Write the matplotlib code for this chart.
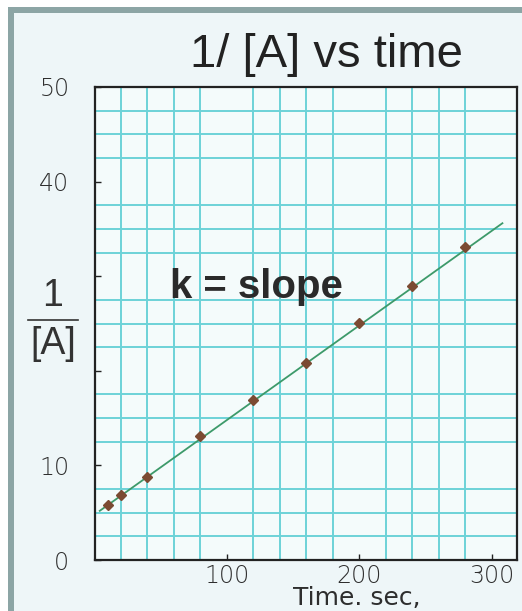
import matplotlib
matplotlib.use("Agg")
import matplotlib.pyplot as plt
from matplotlib.ticker import MultipleLocator, FixedLocator, FixedFormatter
from matplotlib.lines import Line2D
from matplotlib.patches import Rectangle

# data
time_s = [10, 20, 40, 80, 120, 160, 200, 240, 280]
inv_A = [5.8, 6.9, 8.8, 13.1, 16.9, 20.8, 25.1, 29.0, 33.1]
fit_t = [4, 308]
fit_y = [5.2, 35.6]
x_ticks = [100, 200, 300]
x_ticklabels = ["100", "200", "300"]
y_ticks = [0, 10, 20, 30, 40, 50]
y_ticklabels = ["0", "10", "", "", "40", "50"]

W, H = 522, 611
fig = plt.figure(figsize=(W / 100, H / 100), dpi=100)
fig.patch.set_facecolor("white")

# inner panel background and grey frame
fig.add_artist(Rectangle((8 / W, 0), 1, 1 - 7 / H, transform=fig.transFigure,
                         facecolor="#8ca5a5", edgecolor="none", zorder=-3))
fig.add_artist(Rectangle((14 / W, 0), 1, 1 - 13 / H, transform=fig.transFigure,
                         facecolor="#eef6f8", edgecolor="none", zorder=-2))

ax = fig.add_axes([94.5 / W, 1 - 560 / H, (517 - 94.5) / W, (560 - 87) / H])
ax.set_facecolor("#f4fbfb")
ax.set_xlim(0, 319)
ax.set_ylim(0, 50)

ax.xaxis.set_minor_locator(MultipleLocator(20))
ax.yaxis.set_minor_locator(MultipleLocator(2.5))
ax.grid(which="minor", color="#6dd2d8", linewidth=1.4)
ax.grid(which="major", visible=False)
ax.set_axisbelow(True)

ax.xaxis.set_major_locator(FixedLocator(x_ticks))
ax.xaxis.set_major_formatter(FixedFormatter(x_ticklabels))
ax.yaxis.set_major_locator(FixedLocator(y_ticks))
ax.yaxis.set_major_formatter(FixedFormatter(y_ticklabels))
ax.tick_params(which="minor", length=0)
ax.tick_params(axis="both", which="major", direction="in", length=4, width=1,
               color="#222222", labelsize=17, labelcolor="#2e2e2e")
ax.tick_params(axis="x", pad=3)
ax.tick_params(axis="y", pad=18)
for lab in ax.get_xticklabels() + ax.get_yticklabels():
    lab.set_fontfamily("DejaVu Sans")
    lab.set_fontweight("light")

for sp in ax.spines.values():
    sp.set_color("#222222")
    sp.set_linewidth(1.6)

ax.plot(fit_t, fit_y, color="#3d9a6a", linewidth=1.3, zorder=3)
ax.plot(time_s, inv_A, linestyle="none", marker="D", markersize=5.5,
        color="#7b4a32", zorder=4)

ax.text(57, 28.9, "k = slope", fontsize=29, fontweight="bold",
        family="Liberation Sans", color="#2a2a2a", va="center", ha="left")

fig.text(326 / W, 1 - 55 / H, "1/ [A] vs time", fontsize=34,
         family="Liberation Sans", color="#222222", ha="center", va="center")

# y label as a fraction
fig.text(53 / W, 1 - 296 / H, "1", fontsize=27, family="Liberation Sans",
         color="#333333", ha="center", va="center")
fig.add_artist(Line2D([28 / W, 78 / W], [1 - 320 / H, 1 - 320 / H],
                      transform=fig.transFigure, color="#333333", linewidth=1.2))
fig.text(53 / W, 1 - 344 / H, "[A]", fontsize=27, family="Liberation Sans",
         color="#333333", ha="center", va="center")

fig.text(357 / W, 1 - 598 / H, "Time. sec,", fontsize=18,
         family="DejaVu Sans", color="#2e2e2e", ha="center", va="center")

fig.savefig("out.png", dpi=100)
